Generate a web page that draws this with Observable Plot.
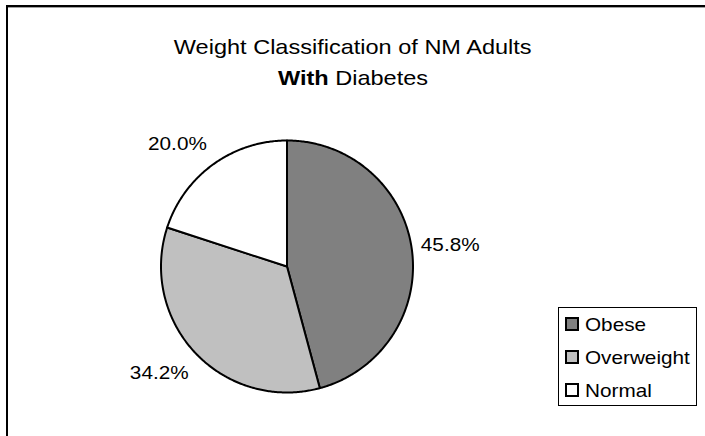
<!DOCTYPE html>
<html>
<head>
<meta charset="utf-8">
<script src="https://cdn.jsdelivr.net/npm/d3@7"></script>
<script src="https://cdn.jsdelivr.net/npm/@observablehq/plot@0.6"></script>
<style>
  html, body { margin: 0; padding: 0; background: #fff; }
  body { font-family: "Liberation Sans", Arial, sans-serif; }
  #wrap { position: relative; width: 705px; height: 436px; overflow: hidden; }
  #frame { position: absolute; left: 6px; top: 5px; width: 800px; height: 600px;
           border-left: 2px solid #000; border-top: 2px solid #000; }
  #frame2 { position: absolute; left: 8px; top: 7px; width: 800px; height: 1px; background: #a0a0a0; }
  #title { position: absolute; left: 0; top: 30.5px; width: 706px; text-align: center;
           font-size: 21px; line-height: 31px; color: #000; }
  #title span.ln { display: inline-block; transform: scaleX(1.12); transform-origin: 50% 50%; white-space: nowrap; }
  #chart { position: absolute; left: 0; top: 0; }
  #legend { position: absolute; left: 558px; top: 307px; width: 137px; height: 97px;
            border: 1px solid #000; background: #fff; }
  .row { height: 33px; line-height: 33px; font-size: 18.5px; white-space: nowrap; position: relative; }
  .sw { position: absolute; left: 6px; top: 9px; width: 10px; height: 10px; border: 2px solid #000; }
  .lab { position: absolute; left: 26px; top: 0; transform: scaleX(1.12); transform-origin: 0 50%; }
</style>
</head>
<body>
<div id="wrap">
  <div id="frame"></div>
  <div id="frame2"></div>
  <div id="chart"></div>
  <div id="title"></div>
  <div id="legend"></div>
</div>
<script>
const titleLine1 = "Weight Classification of NM Adults";
const titleBold = "With";
const titleRest = " Diabetes";
const categories = ["Obese", "Overweight", "Normal"];
const percents = [45.8, 34.2, 20.0];
const colors = ["#808080", "#c0c0c0", "#ffffff"];

const STRETCH = 1.12;
const LABEL_FONT = 18.5;
const FONT = '"Liberation Sans", Arial, sans-serif';

// Title
const t = document.getElementById("title");
const l1 = document.createElement("div");
const s1 = document.createElement("span"); s1.className = "ln"; s1.textContent = titleLine1;
l1.appendChild(s1); t.appendChild(l1);
const l2 = document.createElement("div");
const s2 = document.createElement("span"); s2.className = "ln";
const b = document.createElement("b"); b.textContent = titleBold;
s2.appendChild(b); s2.appendChild(document.createTextNode(titleRest));
l2.appendChild(s2); t.appendChild(l2);

// Geometry (pixels per data unit = radius)
const R = 126;
const ctx = document.createElement("canvas").getContext("2d");
ctx.font = LABEL_FONT + "px " + FONT;

const pie = d3.pie().sort(null).value(d => d)(percents);
const slicePts = [];
const labels = [];
const clamp = v => Math.max(-1, Math.min(1, v));
pie.forEach((p, i) => {
  const cat = categories[i];
  slicePts.push({cat, x: 0, y: 0});
  const n = Math.max(2, Math.ceil((p.endAngle - p.startAngle) / 0.01));
  for (let k = 0; k <= n; k++) {
    const a = p.startAngle + (p.endAngle - p.startAngle) * k / n;
    slicePts.push({cat, x: Math.sin(a), y: Math.cos(a)});
  }
  slicePts.push({cat, x: 0, y: 0});
  // outside-end label placement (box pushed outward from an anchor just outside the rim)
  const m = (p.startAngle + p.endAngle) / 2;
  const dx = Math.sin(m), dy = Math.cos(m);
  const text = percents[i].toFixed(1) + "%";
  const W = ctx.measureText(text).width * STRETCH + 4;
  const H = 30;
  const anchor = R + 7;
  labels.push({
    x: (anchor * dx + (W / 2) * clamp(2 * dx)) / R,
    y: (anchor * dy + (H / 2) * clamp(2 * dy)) / R,
    text
  });
});

const plot = Plot.plot({
  width: 705,
  height: 436,
  marginLeft: 160.5,
  marginRight: 292.5,
  marginTop: 140,
  marginBottom: 44,
  x: {domain: [-1, 1], axis: null},
  y: {domain: [-1, 1], axis: null},
  color: {domain: categories, range: colors},
  style: {background: "transparent", fontFamily: FONT},
  marks: [
    Plot.line(slicePts, {x: "x", y: "y", z: "cat", fill: "cat", stroke: "#000",
      strokeWidth: 2, strokeLinejoin: "round", curve: "linear"}),
    Plot.text(labels, {x: "x", y: "y", text: "text", fontSize: LABEL_FONT, fill: "#000",
      textAnchor: "middle", lineAnchor: "middle", className: "pct"})
  ]
});
document.getElementById("chart").appendChild(plot);

// horizontal stretch of the percentage labels
plot.querySelectorAll("text").forEach(el => {
  const len = el.getComputedTextLength();
  if (len > 0) {
    el.setAttribute("textLength", (len * STRETCH).toFixed(2));
    el.setAttribute("lengthAdjust", "spacingAndGlyphs");
  }
});

// Legend
const lg = document.getElementById("legend");
categories.forEach((c, i) => {
  const row = document.createElement("div"); row.className = "row";
  const sw = document.createElement("div"); sw.className = "sw"; sw.style.background = colors[i];
  const lab = document.createElement("div"); lab.className = "lab"; lab.textContent = c;
  row.appendChild(sw); row.appendChild(lab); lg.appendChild(row);
});
</script>
</body>
</html>
